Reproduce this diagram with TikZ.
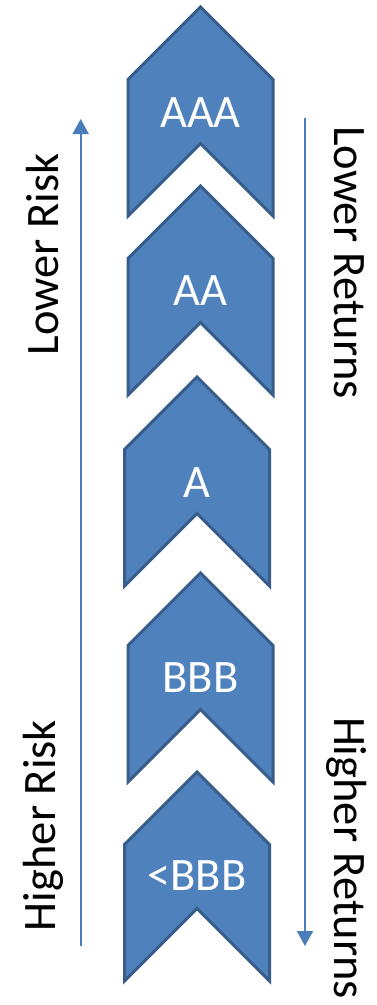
\documentclass[tikz,border=0pt]{standalone}
\usepackage{fontspec}
\setmainfont{Carlito}
\usetikzlibrary{arrows.meta}
\definecolor{chevfill}{HTML}{4F81BD}
\definecolor{chevline}{HTML}{385D8A}
\definecolor{arrowblue}{HTML}{4A7EBB}
\newcommand\mychevron[5]{%
  % #1 name, #2 cx, #3 tip y, #4 label baseline y, #5 text
  \draw[chev] (#2,#3) -- ({#2+72.5},{#3+72.5}) -- ({#2+72.5},{#3+209})
     -- (#2,{#3+136.5}) -- ({#2-72.5},{#3+209}) -- ({#2-72.5},{#3+72.5}) -- cycle;
  \node[chevlabel] (#1) at (#2,#4) {#5};
}
\begin{document}
\begin{tikzpicture}[x=1pt,y=-1pt,
  chev/.style={fill=chevfill,draw=chevline,line width=3pt,line join=miter},
  chevlabel/.style={anchor=base,inner sep=0pt,text=white,font=\fontsize{46.5}{50}\selectfont},
  sidelabel/.style={anchor=base,inner sep=0pt,text=black,font=\fontsize{46.5}{50}\selectfont},
  scale arrow/.style={draw=arrowblue,line width=2pt,-{Triangle[width=16pt,length=15pt]},arrowblue}]
\useasboundingbox[fill=white] (0,0) rectangle (376,1005);
\mychevron{aaa}{200.5}{7}{127}{AAA}
\mychevron{aa}{200.5}{186}{305}{AA}
\mychevron{a}{197}{377}{497}{A}
\mychevron{bbb}{200.5}{573}{692}{BBB}
\mychevron{lbbb}{197}{772}{890}{<BBB}
\coordinate (lstart) at (80.7,946);
\coordinate (lend) at (80.7,119);
\coordinate (rstart) at (305,118);
\coordinate (rend) at (305,946);
\draw[scale arrow] (lstart) -- (lend);
\draw[scale arrow] (rstart) -- (rend);
\node[sidelabel,rotate=90] (lowrisk) at (58,254.5) {Lower Risk};
\node[sidelabel,rotate=90] (highrisk) at (55,825.5) {Higher Risk};
\node[sidelabel,rotate=-90] (lowret) at (334,262.5) {Lower Returns};
\node[sidelabel,rotate=-90] (highret) at (334,858) {Higher Returns};
\end{tikzpicture}
\end{document}
